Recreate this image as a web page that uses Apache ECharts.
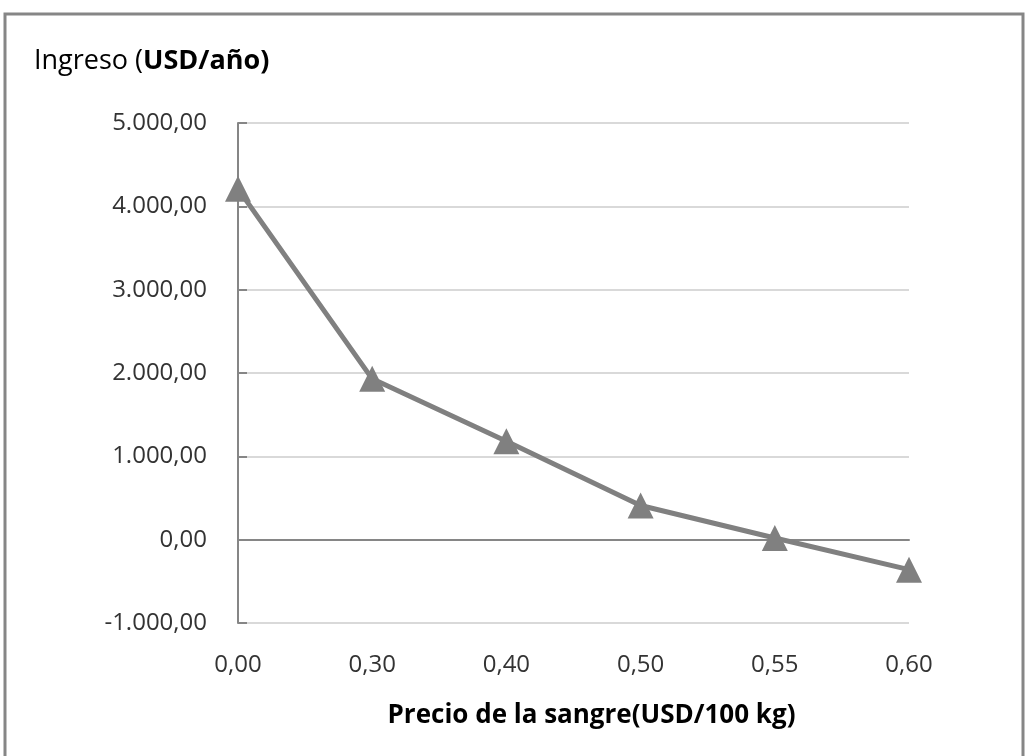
<!DOCTYPE html>
<html lang="es" style="height: 100%">
<head>
  <meta charset="utf-8">
</head>
<body style="height: 100%; margin: 0; background: #fff">
  <div id="container" style="width: 1026px; height: 756px"></div>

  <script type="text/javascript" src="https://cdn.jsdelivr.net/npm/echarts@6/dist/echarts.min.js"></script>
  <script type="text/javascript">
    // precio de la sangre (USD/100 kg)
    var precios = ['0,00', '0,30', '0,40', '0,50', '0,55', '0,60'];
    // ingreso (USD/año)
    var ingreso = [4210, 1930, 1180, 410, 20, -360];

    var dom = document.getElementById('container');
    var myChart = echarts.init(dom, null, { renderer: 'canvas' });

    function fmt(v) {
      var neg = v < 0;
      var s = Math.abs(v).toFixed(2).split('.');
      var ent = s[0].replace(/\B(?=(\d{3})+(?!\d))/g, '.');
      return (neg ? '-' : '') + ent + ',' + s[1];
    }

    var font = '"Open Sans", Lato, sans-serif';

    var option = {
      animation: false,
      textStyle: { fontFamily: font },
      graphic: [
        {
          type: 'rect',
          shape: { x: 5, y: 14, width: 1018, height: 760 },
          style: { fill: 'none', stroke: '#868686', lineWidth: 3 },
          silent: true
        }
      ],
      title: {
        text: '{n|Ingreso (}{b|USD/año)}',
        left: 29,
        top: 43,
        textStyle: {
          rich: {
            n: { fontSize: 27, color: '#000', fontWeight: 'normal', fontFamily: font },
            b: { fontSize: 27, color: '#000', fontWeight: 'bold', fontFamily: font }
          }
        }
      },
      grid: { left: 238, right: 117, top: 123, bottom: 133, outerBoundsMode: 'none' },
      xAxis: {
        type: 'category',
        data: precios,
        boundaryGap: false,
        name: 'Precio de la sangre(USD/100 kg)',
        nameLocation: 'middle',
        nameGap: 80,
        nameMoveOverlap: false,
        nameTextStyle: { fontSize: 26, fontWeight: 'bold', color: '#000', padding: [0, 0, 0, 36] },
        axisLine: { onZero: true, lineStyle: { color: '#868686', width: 2 } },
        axisTick: { show: false },
        axisLabel: { fontSize: 24, color: '#333', margin: 30 }
      },
      yAxis: {
        type: 'value',
        min: -1000,
        max: 5000,
        interval: 1000,
        axisLine: { show: true, lineStyle: { color: '#868686', width: 2 } },
        axisTick: { show: true, inside: true, length: 9, lineStyle: { color: '#868686', width: 2 } },
        axisLabel: { fontSize: 24, color: '#333', margin: 31, formatter: fmt },
        splitLine: { lineStyle: { color: '#d9d9d9', width: 2 } }
      },
      series: [
        {
          type: 'line',
          data: ingreso,
          symbol: 'triangle',
          symbolSize: [26, 26],
          itemStyle: { color: '#808080' },
          lineStyle: { color: '#808080', width: 5 }
        }
      ]
    };

    myChart.setOption(option);
    window.addEventListener('resize', myChart.resize);
  </script>
</body>
</html>
